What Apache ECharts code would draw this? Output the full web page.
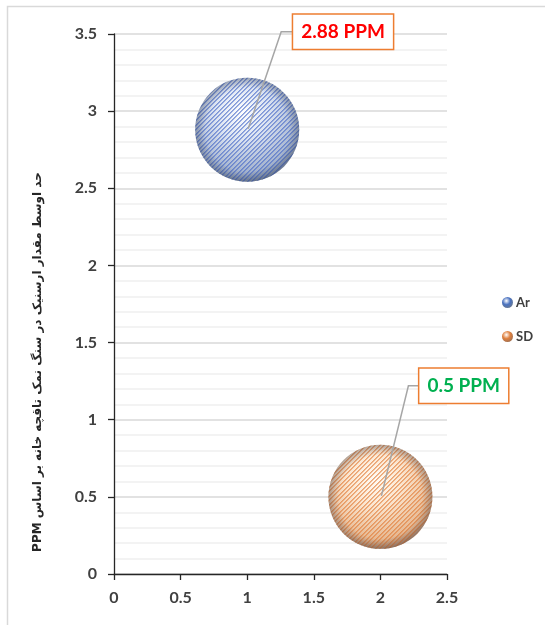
<!DOCTYPE html>
<html>
<head>
<meta charset="utf-8">
<script src="https://cdn.jsdelivr.net/npm/echarts@6/dist/echarts.min.js"></script>
<style>
  html, body { margin: 0; padding: 0; background: #ffffff; }
  #chart { width: 545px; height: 625px; }
</style>
</head>
<body>
<div id="chart"></div>
<script>
// Mean values per sample
const seriesNames = ['Ar', 'SD'];
const xValues = [1, 2];
const yValues = [2.88, 0.5];
const bubbleSizes = [1, 1];
const valueUnit = 'PPM';
const yAxisTitle = 'حد اوسط مقدار ارسنیک در سنگ نمک تاقچه خانه بر اساس PPM';
const xAxisRange = [0, 2.5, 0.5];   // min, max, interval
const yAxisRange = [0, 3.5, 0.5];

// Look of each bubble and of its callout
const bubbleStyles = [
  { light: '#ffffff', mid: '#dce4f2', shade: '#a3b2cd', edge: '#687891',
    stripe: [70, 104, 200], icon: '#4a72c0', labelColor: '#ff0000' },
  { light: '#fffcf5', mid: '#fbe6d0', shade: '#e6b892', edge: '#9e6e50',
    stripe: [226, 122, 52], icon: '#e0813f', labelColor: '#00b050' }
];
const calloutLayout = [
  { elbow: [34, -98], boxLeft: 46 },
  { elbow: [28, -111], boxLeft: 39 }
];
const BUBBLE_RADIUS = 52;
const FONT = 'Lato, "Open Sans", sans-serif';

function sphereFill(st) {
  return {
    type: 'radial', x: 0.45, y: 0.33, r: 0.75,
    colorStops: [
      { offset: 0, color: st.light },
      { offset: 0.35, color: st.mid },
      { offset: 0.78, color: st.shade },
      { offset: 1, color: st.edge }
    ]
  };
}
const rimFill = {
  type: 'radial', x: 0.5, y: 0.5, r: 0.5,
  colorStops: [
    { offset: 0, color: 'rgba(30,40,60,0)' },
    { offset: 0.8, color: 'rgba(30,40,60,0)' },
    { offset: 1, color: 'rgba(30,40,60,0.3)' }
  ]
};
function iconFill(st) {
  return {
    type: 'radial', x: 0.4, y: 0.35, r: 0.7,
    colorStops: [
      { offset: 0, color: '#ffffff' },
      { offset: 0.5, color: st.icon },
      { offset: 1, color: st.edge }
    ]
  };
}

// Pixel-crisp diagonal "/" hatch tile with a 4.5px period
function stripeTile(rgb) {
  const s = 9;
  const c = document.createElement('canvas');
  c.width = s; c.height = s;
  const g = c.getContext('2d');
  const img = g.createImageData(s, s);
  for (let y = 0; y < s; y++) {
    for (let x = 0; x < s; x++) {
      const d = (x + y) % 9;
      const k = (y * s + x) * 4;
      let a = 0;
      if (d === 0 || d === 5) a = 165;
      else if (d === 1 || d === 6) a = 120;
      if (a) {
        img.data[k] = rgb[0];
        img.data[k + 1] = rgb[1];
        img.data[k + 2] = rgb[2];
        img.data[k + 3] = a;
      }
    }
  }
  g.putImageData(img, 0, 0);
  return c;
}

function renderBubble(params, api) {
  const i = params.seriesIndex;
  const st = bubbleStyles[i];
  const lay = calloutLayout[i];
  const p = api.coord([api.value(0), api.value(1)]);
  const r = BUBBLE_RADIUS * api.value(2);
  const circle = () => ({ cx: p[0], cy: p[1], r: r });
  const boxX = p[0] + lay.boxLeft;
  const boxY = p[1] + lay.elbow[1];
  return {
    type: 'group',
    children: [
      { type: 'circle', shape: circle(), style: { fill: sphereFill(st) } },
      { type: 'circle', shape: circle(), style: { fill: { image: stripeTile(st.stripe), repeat: 'repeat' } } },
      { type: 'circle', shape: circle(), style: { fill: rimFill } },
      {
        type: 'polyline',
        shape: { points: [[p[0] + 1, p[1] - 1], [p[0] + lay.elbow[0], boxY], [boxX, boxY]] },
        style: { stroke: '#a6a6a6', lineWidth: 1.5, fill: null }
      },
      {
        type: 'text',
        x: boxX, y: boxY,
        style: {
          text: api.value(1) + ' ' + valueUnit,
          font: 'bold 19px ' + FONT,
          fill: st.labelColor,
          align: 'left', verticalAlign: 'middle',
          textAlign: 'left', textVerticalAlign: 'middle',
          backgroundColor: '#ffffff',
          borderColor: '#ed7d31', borderWidth: 1.5,
          padding: [8, 8, 7, 8]
        }
      }
    ]
  };
}

const chart = echarts.init(document.getElementById('chart'), null, { renderer: 'canvas' });

const series = seriesNames.map((name, i) => ({
  name: name,
  type: 'custom',
  renderItem: renderBubble,
  encode: { x: 0, y: 1 },
  itemStyle: { color: iconFill(bubbleStyles[i]) },
  data: [[xValues[i], yValues[i], bubbleSizes[i]]],
  z: 3
}));

chart.setOption({
  backgroundColor: '#ffffff',
  animation: false,
  graphic: [{
    type: 'rect', left: 5, top: 4,
    shape: { width: 560, height: 640 },
    style: { fill: null, stroke: '#d9d9d9', lineWidth: 1.5 },
    silent: true, z: -1
  }],
  grid: { left: 114, right: 98, top: 34, bottom: 51 },
  legend: {
    data: seriesNames,
    orient: 'vertical',
    left: 497, top: 291,
    icon: 'circle',
    itemWidth: 11, itemHeight: 11,
    itemGap: 21,
    textStyle: { fontFamily: FONT, fontWeight: 'bold', fontSize: 13, color: '#404040', padding: [0, 0, 0, -2] }
  },
  xAxis: {
    type: 'value',
    min: xAxisRange[0], max: xAxisRange[1], interval: xAxisRange[2],
    axisLine: { show: true, lineStyle: { color: '#262626', width: 1.3 } },
    axisTick: { show: true, length: 6, lineStyle: { color: '#262626', width: 1.3 } },
    axisLabel: { margin: 16, fontFamily: FONT, fontWeight: 'bold', fontSize: 16, color: '#404040' },
    splitLine: { show: false }
  },
  yAxis: {
    type: 'value',
    min: yAxisRange[0], max: yAxisRange[1], interval: yAxisRange[2],
    name: '\u202B' + yAxisTitle + '\u202C',
    nameLocation: 'middle',
    nameGap: 70,
    nameTextStyle: {
      fontFamily: '"DejaVu Sans", sans-serif', fontWeight: 'bold', fontSize: 12, color: '#262626',
      padding: [0, 116, 0, 0]
    },
    axisLine: { show: true, lineStyle: { color: '#262626', width: 1.3 } },
    axisTick: { show: true, length: 6, lineStyle: { color: '#262626', width: 1.3 } },
    axisLabel: { margin: 17, fontFamily: FONT, fontWeight: 'bold', fontSize: 16, color: '#404040' },
    splitLine: { show: true, lineStyle: { color: '#d9d9d9', width: 1.5 } },
    minorTick: { show: false, splitNumber: 5 },
    minorSplitLine: { show: true, lineStyle: { color: '#efefef', width: 1.5 } }
  },
  series: series
});
</script>
</body>
</html>
